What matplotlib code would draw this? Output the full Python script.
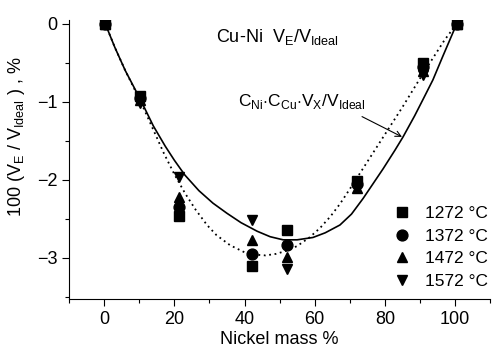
import matplotlib
matplotlib.use("Agg")
import matplotlib.pyplot as plt
from matplotlib.ticker import MultipleLocator

plt.rcParams['font.family'] = ['Liberation Sans', 'DejaVu Sans']
plt.rcParams['mathtext.fontset'] = 'custom'
plt.rcParams['mathtext.rm'] = 'Liberation Sans'

# measured points, Ni mass %
x_pts = [0.3, 10.3, 21.3, 42.2, 52.1, 72.0, 91.0, 100.5]
y_1272 = [0.0, -0.92, -2.47, -3.10, -2.64, -2.02, -0.50, 0.0]
y_1372 = [0.0, -0.95, -2.35, -2.95, -2.83, -2.06, -0.55, 0.0]
y_1472 = [0.0, -0.98, -2.22, -2.77, -2.99, -2.10, -0.60, 0.0]
y_1572 = [0.0, -1.01, -1.97, -2.51, -3.15, -2.08, -0.66, 0.0]

# C_Ni*C_Cu*Vx/Videal curve (solid)
x_solid = [0.3, 3, 6, 10.3, 14, 17.4, 20, 23, 27, 31, 35, 39, 43.6, 47.3, 51, 55,
           59.5, 63, 67.2, 70.5, 73.8, 76.5, 79.5, 82.9, 85.2, 88.5, 91, 93.7,
           96.5, 100.5]
y_solid = [0.0, -0.30, -0.60, -0.97, -1.31, -1.57, -1.75, -1.94, -2.14, -2.30,
           -2.43, -2.55, -2.66, -2.73, -2.77, -2.77, -2.74, -2.68, -2.58, -2.44,
           -2.24, -2.06, -1.86, -1.62, -1.45, -1.18, -0.96, -0.72, -0.42, 0.0]

# fit through data (dotted)
x_dot = [0.3, 3, 6, 10.3, 14, 17, 20, 23, 26, 29.3, 32, 35.9, 40, 43, 46, 49, 52,
         55, 58.5, 61.5, 64.5, 67.2, 70, 72, 75, 78, 81, 85, 88, 91, 94, 97, 100.5]
y_dot = [0.0, -0.30, -0.60, -0.99, -1.36, -1.66, -1.93, -2.17, -2.38, -2.58,
         -2.71, -2.84, -2.93, -2.96, -2.97, -2.95, -2.91, -2.85, -2.74, -2.62,
         -2.47, -2.31, -2.12, -1.98, -1.77, -1.56, -1.35, -1.07, -0.85, -0.63,
         -0.42, -0.21, 0.0]

labels = ['1272 °C', '1372 °C', '1472 °C', '1572 °C']
markers = ['s', 'o', '^', 'v']
series = [y_1272, y_1372, y_1472, y_1572]

fig = plt.figure(figsize=(4.94, 3.49), dpi=100)
ax = fig.add_axes([0.14, 0.143, 0.852, 0.80])

ax.plot(x_solid, y_solid, color='black', lw=1.2, zorder=2)
ax.plot(x_dot, y_dot, color='black', lw=1.3, ls=(0, (1, 2)), zorder=2)

for ys, m, lab in zip(series, markers, labels):
    ax.plot(x_pts, ys, ls='none', marker=m, ms=7.8, color='black', label=lab, zorder=3)

ax.set_xlim(-10, 110)
ax.set_ylim(-3.53, 0.05)
ax.xaxis.set_major_locator(MultipleLocator(20))
ax.xaxis.set_minor_locator(MultipleLocator(10))
ax.yaxis.set_major_locator(MultipleLocator(1))
ax.yaxis.set_minor_locator(MultipleLocator(0.5))
ax.tick_params(which='both', direction='out', labelsize=13, width=0.8)
ax.tick_params(which='major', length=5)
ax.tick_params(which='minor', length=3)
ax.spines['top'].set_visible(False)
ax.spines['right'].set_visible(False)

ax.set_xlabel('Nickel mass %', fontsize=13, labelpad=2)
ax.set_ylabel(r'100 (V$_\mathregular{E}$ / V$_\mathregular{Ideal}$ ) , %', fontsize=13)
ax.yaxis.set_label_coords(-0.1, 0.58)

ax.text(0.494, 0.975, r'Cu-Ni  V$_\mathregular{E}$/V$_\mathregular{Ideal}$',
        transform=ax.transAxes, fontsize=13, ha='center', va='top')
ax.text(38, -1.05, r'C$_\mathregular{Ni}$$\cdot$C$_\mathregular{Cu}$$\cdot$V$_\mathregular{X}$/V$_\mathregular{Ideal}$',
        fontsize=12.5, ha='left', va='baseline')
ax.annotate('', xy=(84.9, -1.45), xytext=(73.5, -1.19),
            arrowprops=dict(arrowstyle='->', color='black', lw=0.8,
                            shrinkA=0, shrinkB=0))

ax.legend(loc='lower right', bbox_to_anchor=(1.02, 0.0), frameon=False,
          fontsize=12.5, handletextpad=0.5, handlelength=1.6,
          labelspacing=0.42, borderaxespad=0.2, markerscale=1.0)

fig.savefig('out.png', dpi=100)
